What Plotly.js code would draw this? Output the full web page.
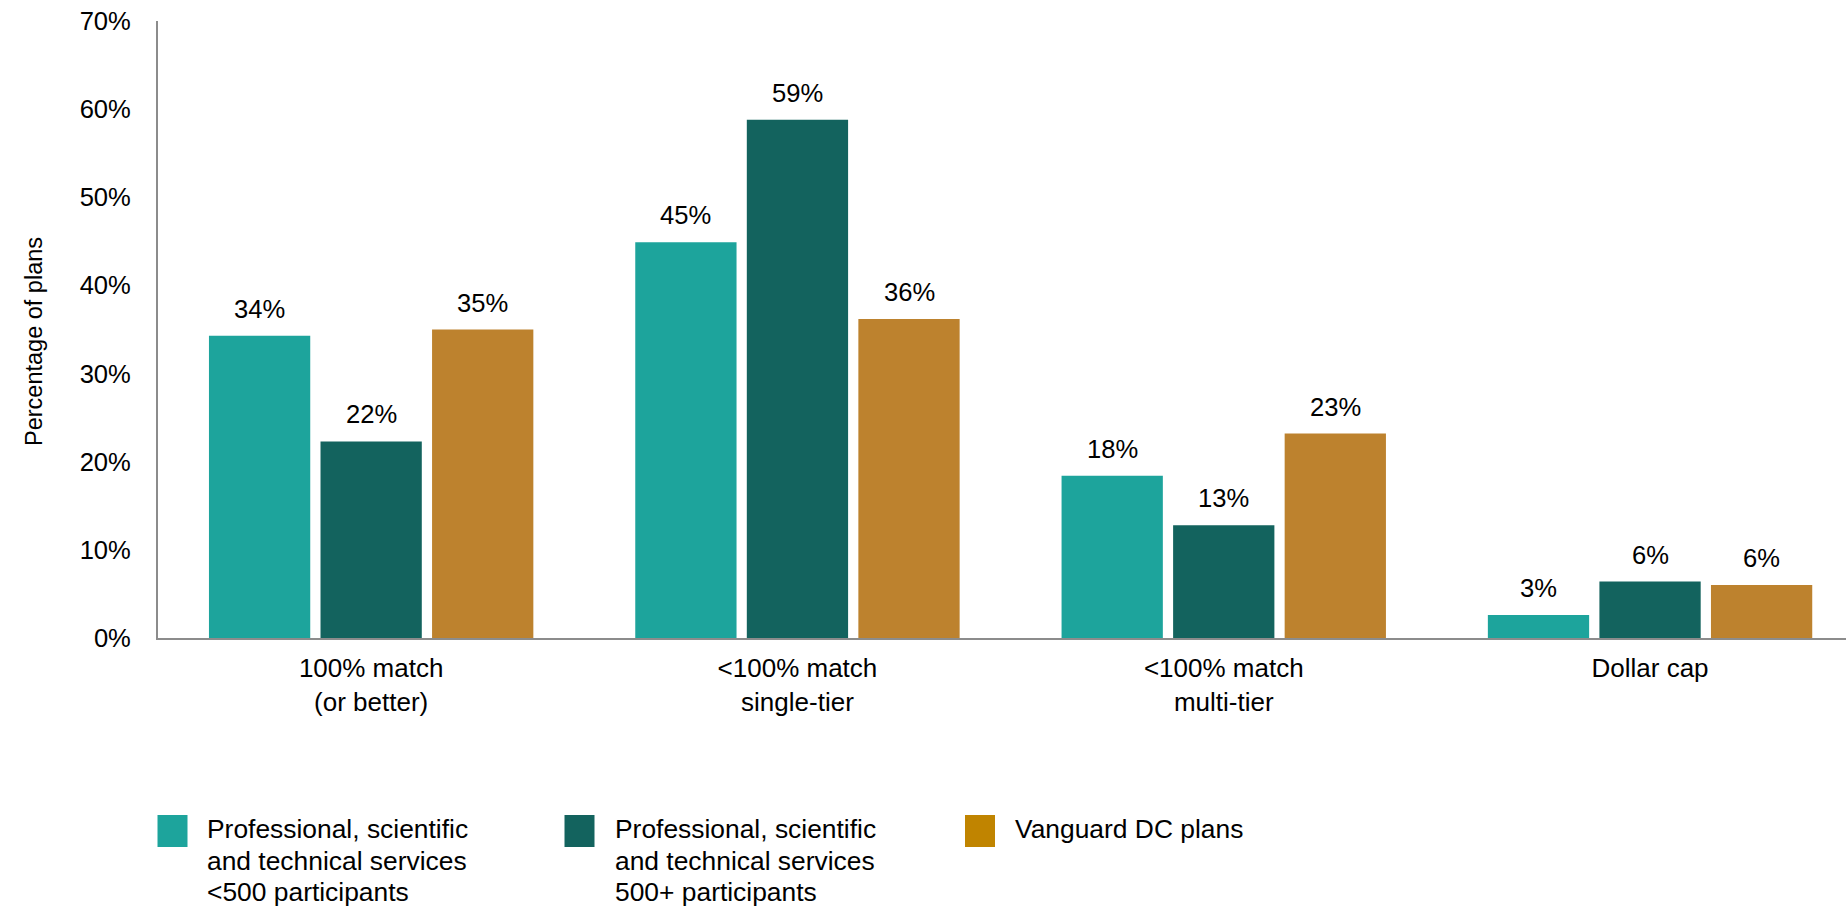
<!DOCTYPE html>
<html>
<head>
<meta charset="utf-8">
<script src="https://cdn.plot.ly/plotly-3.0.1.min.js"></script>
<style>html,body{margin:0;padding:0;background:#fff;}#chart{width:1846px;height:909px;}</style>
</head>
<body>
<div id="chart"></div>
<script>
// ---- data ----
const categories = ["100% match<br>(or better)", "<100% match<br>single-tier", "<100% match<br>multi-tier", "Dollar cap"];
const seriesNames = [
  ["Professional, scientific", "and technical services", "<500 participants"],
  ["Professional, scientific", "and technical services", "500+ participants"],
  ["Vanguard DC plans"]
];
const smallPlans = [34.3, 44.9, 18.4, 2.6];
const largePlans = [22.3, 58.8, 12.8, 6.4];
const vanguardPlans = [35.0, 36.2, 23.2, 6.0];
const yTicks = [0, 10, 20, 30, 40, 50, 60, 70];
const yTitle = "Percentage of plans";

// ---- styles ----
const colors = ["#1DA49C", "#13635E", "#BD822E"];
const legendColors = ["#1DA49C", "#13635E", "#C08400"];
const FONT = "Arial, 'Liberation Sans', Helvetica, sans-serif";
const FS = 26;
const W = 1846, H = 909;
const M = {l: 158, r: 0, t: 21, b: 271};
const PW = W - M.l - M.r, PH = H - M.t - M.b;
const bargap = 0.215, bargroupgap = 0.092;
const xIdx = categories.map((c, i) => i);

const allSeries = [smallPlans, largePlans, vanguardPlans];
const traces = allSeries.map((vals, i) => ({
  type: "bar",
  x: xIdx,
  y: vals,
  name: seriesNames[i].join(" "),
  marker: {color: colors[i], line: {width: 0}},
  showlegend: false,
  hoverinfo: "skip"
}));

// value labels above bars, positioned via data coordinates
const slot = (1 - bargap) / 3;
const annotations = [];
allSeries.forEach((vals, i) => {
  vals.forEach((v, j) => {
    annotations.push({
      x: xIdx[j] + (i - 1) * slot, y: v, xref: "x", yref: "y",
      text: Math.round(v) + "%", showarrow: false,
      yanchor: "middle", yshift: 27,
      font: {family: FONT, size: 25.6, color: "#000"}
    });
  });
});

// helpers: pixel -> paper coordinates
const px2x = p => (p - M.l) / PW;
const py2y = p => (H - M.b - p) / PH;

// y-axis title
annotations.push({xref: "paper", yref: "paper", x: px2x(33.5), y: py2y(341.5),
  xanchor: "center", yanchor: "middle", textangle: -90, showarrow: false,
  text: yTitle, font: {family: FONT, size: 23.5, color: "#000"}});

// custom legend
const legendX = [157.5, 564.5, 965];
const legendTextDx = [47.5, 48, 48];
const lineY = [829, 860.7, 892.4];
const shapes = [];
legendX.forEach((lx, i) => {
  shapes.push({type: "rect", xref: "paper", yref: "paper",
    x0: px2x(lx), x1: px2x(lx + 30), y0: py2y(815), y1: py2y(847),
    fillcolor: legendColors[i], line: {width: 0}});
  seriesNames[i].forEach((line, k) => {
    annotations.push({xref: "paper", yref: "paper", x: px2x(lx + legendTextDx[i]), y: py2y(lineY[k]),
      xanchor: "left", yanchor: "middle", align: "left", showarrow: false,
      text: line, font: {family: FONT, size: 26.4, color: "#000"}});
  });
});

const layout = {
  width: W, height: H,
  margin: M,
  paper_bgcolor: "#fff", plot_bgcolor: "#fff",
  barmode: "group", bargap: bargap, bargroupgap: bargroupgap,
  font: {family: FONT, size: FS, color: "#000"},
  xaxis: {
    range: [-0.5, -0.5 + PW / 426.3],
    tickvals: xIdx, ticktext: categories,
    showline: true, linecolor: "#8C8C8C", linewidth: 2,
    showgrid: false, zeroline: false, ticks: "",
    ticklabelstandoff: 6,
    tickfont: {family: FONT, size: FS, color: "#000"},
    fixedrange: true
  },
  yaxis: {
    range: [0, 70],
    tickvals: yTicks, ticktext: yTicks.map(t => t + "%"),
    showline: true, linecolor: "#8C8C8C", linewidth: 2,
    showgrid: false, zeroline: false, ticks: "",
    ticklabelstandoff: 20,
    tickfont: {family: FONT, size: 25.6, color: "#000"},
    fixedrange: true
  },
  annotations: annotations,
  shapes: shapes,
  showlegend: false
};

Plotly.newPlot("chart", traces, layout, {displayModeBar: false, staticPlot: true});
</script>
</body>
</html>
